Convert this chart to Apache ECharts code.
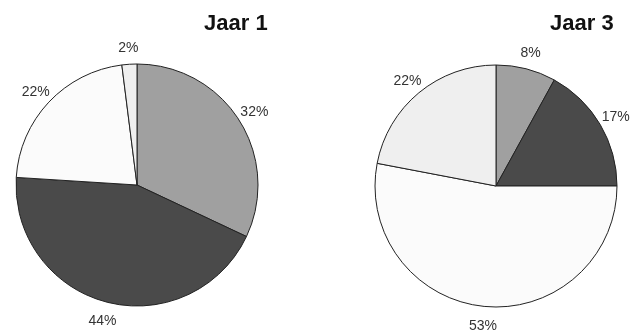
<!DOCTYPE html>
<html>
<head>
<meta charset="utf-8">
<script src="https://cdn.jsdelivr.net/npm/echarts@6/dist/echarts.min.js"></script>
<style>
html,body{margin:0;padding:0;background:#fff;}
#c{width:638px;height:331px;}
</style>
</head>
<body>
<div id="c"></div>
<script>
const categories = ['A', 'B', 'C', 'D'];
const jaar1Values = [32, 44, 22, 2];
const jaar3Values = [8, 17, 53, 22];
const titles = ['Jaar 1', 'Jaar 3'];
const colors = ['#a0a0a0', '#4a4a4a', '#fbfbfb', '#efefef'];

function toData(vals) {
  return categories.map((c, i) => ({ name: c, value: vals[i] }));
}

function pieSeries(vals, center) {
  return {
    type: 'pie',
    center: center,
    radius: 121,
    startAngle: 90,
    clockwise: true,
    avoidLabelOverlap: false,
    data: toData(vals),
    itemStyle: { borderColor: '#222', borderWidth: 1 },
    label: {
      show: true,
      position: 'outside',
      formatter: '{c}%',
      color: '#333',
      fontSize: 14,
      fontFamily: 'Liberation Sans, Arial, sans-serif',
      distanceToLabelLine: 0
    },
    labelLine: { show: false, length: 18, length2: 0 },
    labelLayout: function () { return { align: 'center', verticalAlign: 'middle', dy: 2 }; },
    emphasis: { disabled: true }
  };
}

const chart = echarts.init(document.getElementById('c'));
chart.setOption({
  animation: false,
  color: colors,
  title: [
    { text: titles[0], left: 199, top: 8, textStyle: { fontSize: 22, fontWeight: 'bold', color: '#111', fontFamily: 'Liberation Sans, Arial, sans-serif' } },
    { text: titles[1], left: 545, top: 8, textStyle: { fontSize: 22, fontWeight: 'bold', color: '#111', fontFamily: 'Liberation Sans, Arial, sans-serif' } }
  ],
  series: [
    pieSeries(jaar1Values, [137, 185]),
    pieSeries(jaar3Values, [496, 186])
  ]
});
</script>
</body>
</html>
